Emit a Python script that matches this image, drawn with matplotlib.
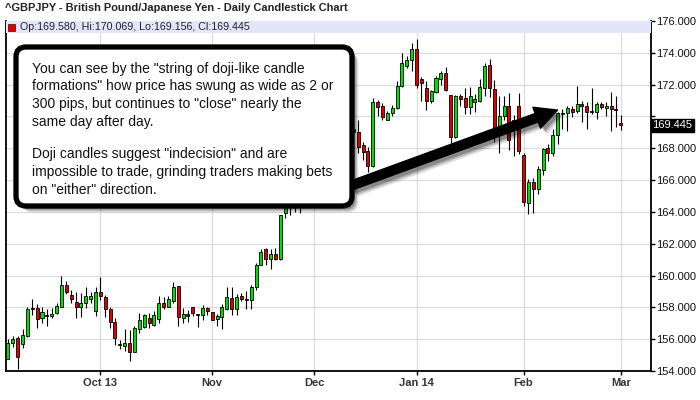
import numpy as np
import pandas as pd
import matplotlib
matplotlib.use("Agg")
import matplotlib.pyplot as plt
import matplotlib.patheffects as pe
from matplotlib.patches import FancyBboxPatch, Rectangle

# GBPJPY daily candles, 4 Sep 2013 - 3 Mar 2014
opens = [154.78, 155.79, 156.08, 155.71, 156.17, 157.98, 157.98, 157.33, 157.54, 157.43,
         157.64, 158.02, 159.41, 158.78, 158.34, 158.02, 158.27, 158.53, 157.75, 158.97,
         158.65, 157.89, 157.07, 155.70, 155.60, 155.75, 155.22, 156.67, 156.74, 157.35,
         156.91, 157.26, 158.27, 158.02, 158.38, 159.35, 157.33, 157.60, 158.02, 157.60,
         157.54, 157.96, 157.73, 157.26, 157.39, 157.89, 158.59, 157.89, 158.74, 158.50,
         158.46, 159.26, 160.65, 161.66, 161.03, 161.35, 161.03, 163.90, 164.50, 164.80,
         164.60, 165.20, 166.00, 165.70, 166.50, 167.30, 167.00, 167.80, 168.30, 168.00,
         168.80, 169.20, 169.05, 168.21, 167.85, 166.91, 170.91, 170.67, 169.79, 170.21,
         170.53, 171.94, 173.20, 173.54, 174.27, 172.36, 171.79, 170.95, 171.54, 172.38,
         172.74, 171.37, 168.69, 171.26, 171.16, 170.59, 170.91, 170.95, 171.79, 173.26,
         171.75, 169.16, 170.00, 170.67, 169.40, 170.67, 167.56, 164.57, 165.89, 165.45,
         166.61, 168.04, 167.73, 168.82, 170.13, 170.21, 170.46, 170.36, 170.78, 170.63,
         170.36, 170.25, 170.78, 170.51, 170.67, 170.46, 169.580]
highs = [156.00, 156.21, 156.17, 156.63, 158.02, 158.55, 158.23, 158.02, 157.92, 157.96,
         158.27, 160.00, 159.68, 159.12, 158.97, 158.91, 159.28, 158.95, 159.28, 159.92,
         158.80, 158.02, 157.35, 155.92, 156.63, 156.59, 156.80, 157.64, 157.60, 157.64,
         157.75, 158.69, 158.65, 158.69, 159.58, 159.35, 157.96, 157.85, 158.02, 157.60,
         158.17, 158.02, 157.73, 157.60, 158.21, 159.28, 159.28, 158.84, 158.91, 159.00,
         159.41, 160.78, 161.66, 161.73, 161.66, 161.73, 163.83, 164.80, 165.20, 165.30,
         165.60, 166.30, 166.40, 166.80, 167.60, 167.70, 168.10, 168.60, 168.70, 169.10,
         169.60, 169.70, 169.79, 168.42, 168.10, 171.16, 171.05, 170.84, 170.32, 170.74,
         172.21, 173.96, 173.79, 174.59, 174.84, 172.48, 172.21, 171.68, 172.53, 172.84,
         173.12, 171.37, 171.37, 171.43, 171.79, 171.83, 171.43, 172.36, 173.33, 173.58,
         172.27, 171.30, 171.30, 171.47, 170.10, 171.50, 167.73, 166.04, 166.15, 166.88,
         168.04, 168.25, 169.20, 170.30, 170.46, 170.67, 170.67, 171.94, 171.00, 170.88,
         171.77, 170.93, 170.93, 170.93, 171.56, 171.30, 170.069]
lows = [154.74, 155.50, 154.10, 155.43, 156.11, 157.49, 156.70, 157.00, 156.80, 157.33,
        157.60, 158.02, 158.86, 158.27, 157.33, 157.39, 157.96, 158.27, 157.43, 158.48,
        157.39, 156.70, 155.64, 155.39, 155.28, 154.65, 155.22, 156.42, 156.69, 156.69,
        156.84, 157.00, 157.89, 158.02, 158.27, 156.80, 157.00, 157.11, 157.43, 156.74,
        157.22, 157.54, 157.18, 156.85, 156.67, 157.85, 157.54, 157.54, 158.38, 157.90,
        157.87, 159.09, 160.65, 160.67, 160.40, 160.99, 160.95, 163.60, 163.80, 164.00,
        163.90, 165.00, 165.40, 165.50, 166.30, 166.70, 166.80, 167.60, 167.70, 167.90,
        168.50, 168.80, 167.68, 167.26, 166.53, 166.84, 170.00, 169.79, 169.75, 170.04,
        170.46, 171.85, 173.05, 172.84, 171.79, 171.00, 170.42, 170.84, 171.47, 172.00,
        171.58, 168.32, 168.63, 170.63, 170.17, 170.17, 170.27, 170.88, 171.26, 171.22,
        168.42, 167.73, 169.79, 167.90, 167.50, 167.62, 164.36, 163.87, 163.94, 165.10,
        166.29, 167.20, 167.52, 168.25, 169.20, 169.10, 169.94, 170.21, 169.62, 169.24,
        170.15, 169.87, 170.46, 170.04, 169.10, 169.33, 169.156]
closes = [155.79, 156.00, 154.90, 156.27, 157.92, 157.89, 157.26, 157.71, 157.43, 157.58,
          158.06, 159.41, 158.95, 158.53, 158.02, 158.30, 158.72, 158.74, 158.97, 158.69,
          157.89, 157.07, 156.06, 155.66, 155.75, 155.22, 156.72, 157.22, 157.54, 157.01,
          157.54, 158.27, 158.00, 158.53, 159.28, 157.39, 157.60, 157.43, 157.64, 157.54,
          157.96, 157.75, 157.22, 157.47, 158.02, 158.65, 157.89, 158.65, 158.53, 158.48,
          159.31, 160.67, 161.45, 161.03, 161.35, 161.03, 163.83, 164.50, 164.80, 164.60,
          165.20, 166.00, 165.70, 166.50, 167.30, 167.00, 167.80, 168.30, 168.00, 168.80,
          169.20, 169.05, 168.10, 167.79, 166.91, 170.91, 170.59, 169.96, 170.21, 170.53,
          171.94, 173.33, 173.54, 174.27, 172.00, 172.10, 170.95, 171.58, 172.42, 172.74,
          171.68, 168.69, 171.26, 171.10, 170.59, 171.26, 171.10, 171.83, 173.20, 171.79,
          169.16, 170.00, 170.63, 168.50, 169.80, 167.80, 164.61, 165.89, 165.45, 166.67,
          167.98, 167.73, 168.82, 170.21, 170.21, 170.50, 170.30, 170.78, 170.63, 170.25,
          170.30, 170.78, 170.57, 170.67, 170.46, 170.40, 169.445]

dates = pd.bdate_range("2013-09-04", "2014-03-03", freq="C",
                       holidays=["2013-12-25", "2014-01-01"])
month_labels = ["Oct 13", "Nov", "Dec", "Jan 14", "Feb", "Mar"]
price_ticks = list(range(154, 177, 2))

title = "^GBPJPY - British Pound/Japanese Yen - Daily Candlestick Chart"
note_lines = [
    'You can see by the "string of doji-like candle',
    'formations" how price has swung as wide as 2 or',
    '300 pips, but continues to "close" nearly the',
    'same day after day.',
    'Doji candles suggest "indecision" and are',
    'impossible to trade, grinding traders making bets',
    'on "either" direction.',
]

o = np.array(opens)
h = np.array(highs)
l = np.array(lows)
c = np.array(closes)
x = np.arange(len(c))

plt.rcParams["font.family"] = ["Liberation Sans", "DejaVu Sans"]

fig = plt.figure(figsize=(7, 4), dpi=100)
ax = fig.add_axes([6 / 700, 29 / 400, 645 / 700, 350 / 400])

# candles
up = c >= o
body = np.maximum(np.abs(c - o), 0.05)
ax.vlines(x, l, h, color="black", lw=0.8, zorder=3)
ax.bar(x, body, bottom=np.minimum(o, c), width=0.62,
       color=np.where(up, "#00e000", "#e00000"), edgecolor="black",
       linewidth=0.6, zorder=4)

ax.set_xlim(-0.4, 132.2)
ax.set_ylim(154, 176)

month_pos = [i for i in range(1, len(dates)) if dates[i].month != dates[i - 1].month]
ax.set_xticks(month_pos)
ax.set_xticklabels(month_labels, fontweight="bold", fontsize=8, color="#333333")
ax.set_yticks(price_ticks)
ax.set_yticklabels(["" if p == 170 else "%.3f" % p for p in price_ticks],
                   fontsize=8, color="#111111")
ax.yaxis.tick_right()
ax.tick_params(axis="x", length=3, width=1, pad=2, color="black")
ax.tick_params(axis="y", length=3, width=1, pad=1, color="black")
ax.grid(True, color="#dcdcdc", lw=0.9, zorder=0)
ax.set_axisbelow(True)
for side in ["left", "bottom", "right"]:
    ax.spines[side].set_linewidth(1.3)
ax.spines["top"].set_color("#cccccc")
ax.spines["top"].set_linewidth(0.8)

# info band along the top
ax.add_patch(Rectangle((0, 1 - 12 / 350), 1, 12 / 350, transform=ax.transAxes,
                       facecolor="#e4e4fa", edgecolor="none", zorder=5))
ax.add_patch(Rectangle((2 / 645, 1 - 10 / 350), 7 / 645, 7 / 350, transform=ax.transAxes,
                       facecolor="#e00000", edgecolor="#550000", lw=0.5, zorder=6))
ax.text(14 / 645, 1 - 6 / 350,
        "Op:%.3f, Hi:%.3f, Lo:%.3f, Cl:%.3f" % (o[-1], h[-1], l[-1], c[-1]),
        transform=ax.transAxes, fontsize=7.7, va="center", ha="left",
        color="#222222", zorder=7)

# last price tag on the right axis
ax.text(1.002, c[-1], "%.3f" % c[-1], transform=ax.get_yaxis_transform(),
        fontsize=8, color="white", va="center", ha="left", zorder=8,
        bbox=dict(boxstyle="square,pad=0.15", fc="black", ec="black"), clip_on=False)

fig.text(5 / 700, 1 - 8 / 400, title, fontsize=7.9, fontweight="bold",
         va="center", ha="left", color="#222222")

# arrow from the note to the doji run
shadow = [pe.SimplePatchShadow(offset=(s, -s), shadow_rgbFace="black", alpha=a)
          for s, a in ((4.5, 0.12), (3.5, 0.18), (2.5, 0.25))] + [pe.Normal()]
ax.annotate("", xy=(113.0, 170.4), xycoords="data",
            xytext=(350, 400 - 186), textcoords="figure pixels",
            arrowprops=dict(arrowstyle="simple,head_length=1.6,head_width=1.6,tail_width=0.65",
                            fc="black", ec="black", mutation_scale=10,
                            shrinkA=0, shrinkB=0, path_effects=shadow),
            zorder=9)

# note box
box = FancyBboxPatch((0.16, 4 - 2.06), 3.36, 1.59,
                     boxstyle="round,pad=0,rounding_size=0.1",
                     transform=fig.dpi_scale_trans, facecolor="white",
                     edgecolor="black", lw=3.8, zorder=2, path_effects=shadow)
fig.add_artist(box)
baselines = [72.7, 90.4, 108.0, 125.6, 158.4, 176.0, 193.6]
for line, yb in zip(note_lines, baselines):
    fig.text(32 / 700, 1 - yb / 400, line, fontsize=10, va="baseline",
             ha="left", color="#111111", zorder=3)

fig.savefig("out.png", dpi=100)
